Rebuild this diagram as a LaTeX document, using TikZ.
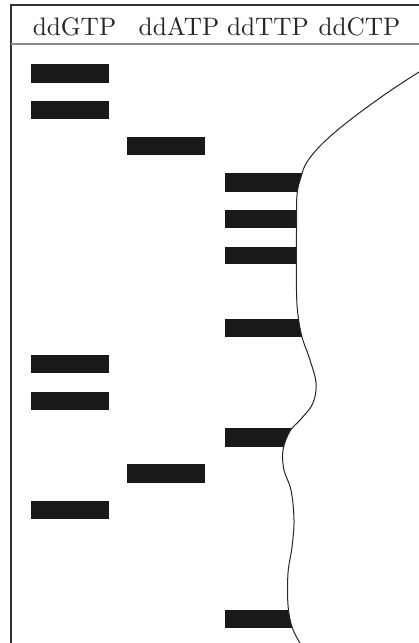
\documentclass[tikz,border=0pt]{standalone}
\usepackage{fontspec}
\newfontfamily\hdrfont{lmroman10-regular.otf}
\begin{document}
\begin{tikzpicture}[x=1pt,y=-1pt,
  bar/.style={fill=black!90,draw=none},
  frameline/.style={draw=black!80,line width=1.6pt},
  sepline/.style={draw=black!45,line width=2pt},
  curveline/.style={draw=black!85,line width=1pt},
  lbl/.style={anchor=base,inner sep=0pt,text=black!85,font=\hdrfont\fontsize{25.3}{30}\selectfont}]
\useasboundingbox (0,0) rectangle (419,643);
\fill[white] (0,0) rectangle (419,643);
% frame
\draw[frameline] (11,643) -- (11,5) -- (419,5);
\draw[sepline] (11,44) -- (419,44);
% header
\node[lbl] (g) at (74.5,35) {ddGTP};
\node[lbl] (a) at (179,35) {ddATP};
\node[lbl] (t) at (268,35) {ddTTP};
\node[lbl] (c) at (359.5,35) {ddCTP};
% ddGTP bars
\foreach \y/\h in {64/19,101/18,355/18,392/18,501/18}
  \fill[bar] (31,\y) rectangle (109,\y+\h);
% ddATP bars
\foreach \y/\h in {137/18,464/19}
  \fill[bar] (127,\y) rectangle (205,\y+\h);
% curve
\def\curvepts{(419,72) (387,93) (350,120) (323,143) (307,162) (301,177) (297,195) (296.5,230) (296.5,290) (298,315) (302,337) (310,360) (316,383) (313,403) (301,419) (290,431) (283,450) (284,470) (291,490) (294,520) (292,547) (288,573) (288,605) (292,627) (300,643)}
% ddTTP bars clipped by curve
\begin{scope}
  \clip plot[smooth,tension=0.6] coordinates {\curvepts} -- (0,643) -- (0,72) -- cycle;
  \foreach \y/\h in {173/19,210/18,247/17,319/18,428/19,610/18}
    \fill[bar] (225,\y) rectangle (320,\y+\h);
\end{scope}
\draw[curveline] plot[smooth,tension=0.6] coordinates {\curvepts};
\end{tikzpicture}
\end{document}
